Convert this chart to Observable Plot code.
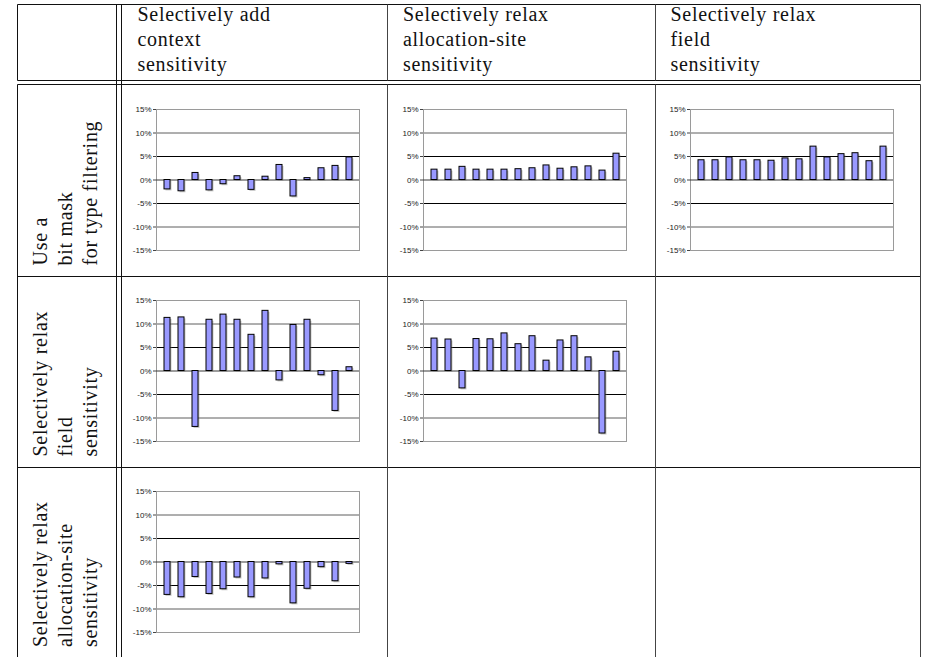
<!DOCTYPE html>
<html>
<head>
<meta charset="utf-8">
<script src="https://cdn.jsdelivr.net/npm/d3@7"></script>
<script src="https://cdn.jsdelivr.net/npm/@observablehq/plot@0.6"></script>
<style>
  body { margin: 0; background: #fff; }
  #page { position: relative; width: 926px; height: 657px; overflow: hidden; background: #fff; }
  #table { position: absolute; left: 0; top: 0; }
  #table text { font-family: "Liberation Serif", "DejaVu Serif", serif; font-size: 20px; letter-spacing: 0.7px; fill: #111; }
  .panel { position: absolute; }
  .panel svg { overflow: visible; }
</style>
</head>
<body>
<div id="page">
  <svg id="table" width="926" height="657"></svg>
</div>
<script>
// ---- data (percent change per benchmark) ----
const benchmarks = ["b1","b2","b3","b4","b5","b6","b7","b8","b9","b10","b11","b12","b13","b14"];
const colHeaders = [
  ["Selectively add", "context", "sensitivity"],
  ["Selectively relax", "allocation-site", "sensitivity"],
  ["Selectively relax", "field", "sensitivity"]
];
const rowHeaders = [
  ["Use a", "bit mask", "for type filtering"],
  ["Selectively relax", "field", "sensitivity"],
  ["Selectively relax", "allocation-site", "sensitivity"]
];
const yTicks = [-15, -10, -5, 0, 5, 10, 15];
const yTickLabels = ["-15%", "-10%", "-5%", "0%", "5%", "10%", "15%"];
const gridLight = [-10, 10];
const gridDark = [-5, 5];
const frameEdges = [-15, 15];

const bitmaskVsContext   = [-2.0, -2.4, 1.5, -2.2, -0.9, 0.8, -2.1, 0.7, 3.2, -3.5, 0.4, 2.5, 3.0, 4.8];
const bitmaskVsAllocSite = [2.2, 2.2, 2.8, 2.2, 2.2, 2.2, 2.3, 2.5, 3.1, 2.4, 2.7, 2.9, 2.0, 5.6];
const bitmaskVsField     = [4.2, 4.2, 4.8, 4.2, 4.2, 4.1, 4.6, 4.4, 7.1, 4.8, 5.5, 5.7, 4.0, 7.1];
const fieldVsContext     = [11.3, 11.4, -11.9, 10.9, 12.0, 10.9, 7.7, 12.8, -2.0, 9.8, 10.9, -0.9, -8.5, 0.8];
const fieldVsAllocSite   = [6.9, 6.7, -3.7, 6.8, 6.75, 8.0, 5.7, 7.4, 2.2, 6.5, 7.4, 2.9, -13.3, 4.1];
const allocSiteVsContext = [-7.0, -7.5, -3.2, -6.8, -5.8, -3.3, -7.5, -3.5, -0.5, -8.8, -5.7, -1.1, -4.1, -0.4];

const panels = [
  {row: 0, col: 0, values: bitmaskVsContext},
  {row: 0, col: 1, values: bitmaskVsAllocSite},
  {row: 0, col: 2, values: bitmaskVsField},
  {row: 1, col: 0, values: fieldVsContext},
  {row: 1, col: 1, values: fieldVsAllocSite},
  {row: 2, col: 0, values: allocSiteVsContext}
];

// ---- layout ----
const colAxisX = [155.5, 423, 689.5];
const rowTopY = [108.5, 299.5, 490.5];
const M = {left: 40, right: 7, top: 5, bottom: 5};
const plotW = 203, plotH = 141;

function makePanel(values) {
  const data = benchmarks.map((b, i) => ({benchmark: b, value: values[i]}));
  const fmt = d => yTickLabels[yTicks.findIndex(t => Math.abs(t - d) < 1e-9)];
  const common = [
    Plot.ruleY(gridLight, {stroke: "#5e5e5e", strokeWidth: 1}),
    Plot.ruleY(gridDark, {stroke: "#000", strokeWidth: 1.2}),
    Plot.ruleY(frameEdges, {stroke: "#8a8a8a", strokeWidth: 1}),
    Plot.frame({stroke: "#9a9a9a", strokeWidth: 1}),
    Plot.ruleY([0], {stroke: "#3a3a3a", strokeWidth: 1.1}),
    Plot.barY(data, {x: "benchmark", y: "value", fill: "#808080", fillOpacity: 0.45, dx: 1.5, dy: 1.5}),
    Plot.barY(data, {x: "benchmark", y: "value", fill: "#9999ff", stroke: "#000", strokeWidth: 1})
  ];
  const hasAxisMark = typeof Plot.axisY === "function";
  const marks = hasAxisMark
    ? [...common, Plot.axisY({ticks: yTicks, tickFormat: fmt, tickSize: 3, tickPadding: 2, label: null, stroke: "#444", fill: "#1a1a1a"}),
       Plot.axisY({ticks: [], label: null, line: true, stroke: "#444", strokeWidth: 1.3})]
    : common;
  return Plot.plot({
    width: M.left + plotW + M.right,
    height: M.top + plotH + M.bottom,
    marginLeft: M.left, marginRight: M.right, marginTop: M.top, marginBottom: M.bottom,
    style: {background: "transparent", overflow: "visible", fontFamily: "'Liberation Sans', Arial, sans-serif", fontSize: "8px", color: "#1a1a1a"},
    x: {type: "band", domain: benchmarks, paddingInner: 0.58, paddingOuter: 0.29, axis: null},
    y: {domain: [-15, 15], ticks: yTicks, tickFormat: fmt, tickSize: 3, tickPadding: 2, label: null, line: !hasAxisMark, axis: hasAxisMark ? null : "left"},
    marks
  });
}

const page = document.getElementById("page");
for (const p of panels) {
  const div = document.createElement("div");
  div.className = "panel";
  div.style.left = (colAxisX[p.col] - M.left) + "px";
  div.style.top = (rowTopY[p.row] - M.top) + "px";
  div.appendChild(makePanel(p.values));
  page.appendChild(div);
}

// ---- table rules and labels ----
const svg = d3.select("#table");
const L = 17.5, R = 920.5, T = 4.5, B = 660;
const H1 = 80.5, H2 = 84.5;
const rowLines = [276.5, 467.5];
const dbl = [116.5, 121.5];
const colSeps = [387.5, 655.5];
const ink = "#111";

function hline(y, x1, x2) { svg.append("line").attr("x1", x1).attr("x2", x2).attr("y1", y).attr("y2", y).attr("stroke", ink).attr("stroke-width", 1); }
function vline(x, y1, y2, c) { svg.append("line").attr("x1", x).attr("x2", x).attr("y1", y1).attr("y2", y2).attr("stroke", c || ink).attr("stroke-width", 1); }

hline(T, L, R); hline(H1, L, R); hline(H2, L, R);
rowLines.forEach(y => hline(y, L, R));
vline(L, T, H1); vline(L, H2, B);
dbl.forEach(x => vline(x, T, B));
colSeps.forEach(x => { vline(x, T, H1, "#444"); vline(x, H2, B, "#444"); });
vline(R, T, H1, "#444"); vline(R, H2, B, "#444");

const headerX = [137.5, 403, 670.5];
const lineBase = [20.5, 45.5, 70.5];
colHeaders.forEach((lines, c) => lines.forEach((t, i) => {
  svg.append("text").attr("x", headerX[c]).attr("y", lineBase[i]).text(t);
}));

const rowLabelX = [47, 72, 97];
const rowBottoms = [276.5, 467.5, 658];
rowHeaders.forEach((lines, r) => lines.forEach((t, i) => {
  svg.append("text")
    .attr("transform", `translate(${rowLabelX[i]},${rowBottoms[r] - 11}) rotate(-90)`)
    .text(t);
}));
</script>
</body>
</html>
